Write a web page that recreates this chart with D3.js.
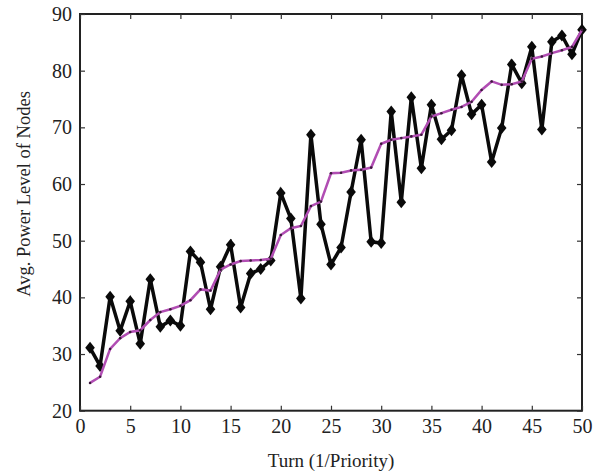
<!DOCTYPE html>
<html><head><meta charset="utf-8">
<script src="https://cdn.jsdelivr.net/npm/d3@7"></script>
<style>body{margin:0;background:#fff}svg{display:block}</style>
</head><body>
<script>
const turns = d3.range(1, 51);
const powerLevel = [31.1,27.9,40.1,34.1,39.3,31.8,43.2,34.8,35.9,35.0,
  48.1,46.2,37.9,45.4,49.3,38.2,44.2,45.0,46.5,58.4,
  53.9,39.8,68.7,52.9,45.8,48.8,58.6,67.8,49.8,49.6,
  72.8,56.8,75.3,62.8,74.0,67.9,69.5,79.2,72.3,74.0,
  63.9,69.9,81.1,77.8,84.2,69.6,85.1,86.2,82.9,87.2];
const avgLine = [24.9,26.0,30.9,32.8,33.9,34.2,36.0,37.4,37.9,38.5,
  39.5,41.4,41.2,44.9,45.8,46.4,46.5,46.6,46.8,51.0,
  52.2,52.6,56.1,56.9,61.9,62.0,62.4,62.5,62.9,67.1,
  67.8,68.1,68.4,68.7,71.9,72.5,73.1,73.6,74.5,76.6,
  78.1,77.5,77.6,78.1,82.1,82.5,83.1,83.6,84.2,87.2];
const xTicks = [0,5,10,15,20,25,30,35,40,45,50];
const yTicks = [20,30,40,50,60,70,80,90];
const xLabel = "Turn (1/Priority)";
const yLabel = "Avg. Power Level of Nodes";

const W = 606, H = 475;
const L = 80, R = 582, T = 14, B = 410.7;
const svg = d3.select("body").append("svg").attr("width", W).attr("height", H);
const x = d3.scaleLinear().domain([0, 50]).range([L, R]);
const y = d3.scaleLinear().domain([20, 90]).range([B, T]);
const font = "'Liberation Serif','Times New Roman',serif";

svg.append("rect").attr("x", L).attr("y", T).attr("width", R - L).attr("height", B - T)
  .attr("fill", "#fff").attr("stroke", "#222").attr("stroke-width", 2);

const tl = 5;
const axB = svg.append("g").attr("transform", `translate(0,${B})`)
  .call(d3.axisBottom(x).tickValues(xTicks).tickSizeInner(-tl).tickSizeOuter(0).tickPadding(8));
const axT = svg.append("g").attr("transform", `translate(0,${T})`)
  .call(d3.axisTop(x).tickValues(xTicks).tickSizeInner(-tl).tickSizeOuter(0).tickFormat(""));
const axL = svg.append("g").attr("transform", `translate(${L},0)`)
  .call(d3.axisLeft(y).tickValues(yTicks).tickSizeInner(-tl).tickSizeOuter(0).tickPadding(8));
const axR = svg.append("g").attr("transform", `translate(${R},0)`)
  .call(d3.axisRight(y).tickValues(yTicks).tickSizeInner(-tl).tickSizeOuter(0).tickFormat(""));
[axB, axT, axL, axR].forEach(a => {
  a.select(".domain").remove();
  a.selectAll("line").attr("stroke", "#333").attr("stroke-width", 1.2);
  a.selectAll("text").attr("font-family", font).attr("font-size", 20).attr("fill", "#222");
});

const g = svg.append("g");
g.append("path").datum(powerLevel)
  .attr("fill", "none").attr("stroke", "#0a0a0a").attr("stroke-width", 3.5)
  .attr("stroke-linejoin", "miter")
  .attr("d", d3.line().x((d, i) => x(turns[i])).y(d => y(d)));
const dsz = 6;
g.selectAll(".dia").data(powerLevel).join("path").attr("class", "dia")
  .attr("fill", "#0a0a0a")
  .attr("d", (d, i) => {
    const cx = x(turns[i]), cy = y(d);
    return `M${cx},${cy - dsz}L${cx + dsz * 0.8},${cy}L${cx},${cy + dsz}L${cx - dsz * 0.8},${cy}Z`;
  });

g.append("path").datum(avgLine)
  .attr("fill", "none").attr("stroke", "#b14db3").attr("stroke-width", 2.5)
  .attr("d", d3.line().x((d, i) => x(turns[i])).y(d => y(d)));
g.selectAll(".dot").data(avgLine).join("circle").attr("class", "dot")
  .attr("cx", (d, i) => x(turns[i])).attr("cy", d => y(d)).attr("r", 1.3)
  .attr("fill", "#3a1a3a");

svg.append("text").attr("x", (L + R) / 2).attr("y", 467).attr("text-anchor", "middle")
  .attr("font-family", font).attr("font-size", 19).attr("fill", "#222").text(xLabel);
svg.append("text").attr("transform", `translate(30,194) rotate(-90)`)
  .attr("text-anchor", "middle").attr("font-family", font).attr("font-size", 18.5)
  .attr("fill", "#222").text(yLabel);
</script>
</body></html>
